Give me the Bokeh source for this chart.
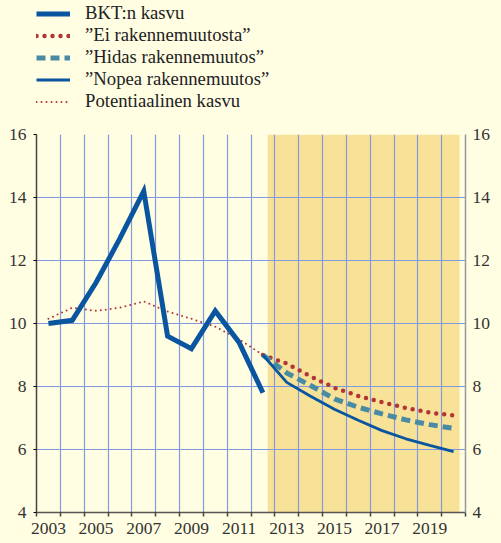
from bokeh.plotting import figure
from bokeh.layouts import column
from bokeh.models import (FixedTicker, LinearAxis, Legend, LegendItem, Range1d)
from bokeh.embed import file_html
from bokeh.resources import INLINE

# ---------------- data ----------------
years_hist = [2003, 2004, 2005, 2006, 2007, 2008, 2009, 2010, 2011, 2012]
bkt = [10.0, 10.1, 11.3, 12.7, 14.2, 9.6, 9.2, 10.4, 9.4, 7.8]
potential = [10.15, 10.5, 10.4, 10.5, 10.7, 10.38, 10.15, 9.9, 9.5, 9.0]

years_fc = [2012, 2013, 2014, 2015, 2016, 2017, 2018, 2019, 2020]
ei = [9.0, 8.73, 8.32, 7.96, 7.70, 7.50, 7.32, 7.17, 7.08]
hidas = [9.0, 8.43, 8.03, 7.61, 7.34, 7.13, 6.94, 6.79, 6.67]
nopea = [9.0, 8.13, 7.69, 7.28, 6.93, 6.60, 6.34, 6.13, 5.93]

all_years = list(range(2003, 2021))
tick_years = [2003, 2005, 2007, 2009, 2011, 2013, 2015, 2017, 2019]
tick_labels = ["2003", "2005", "2007", "2009", "2011", "2013", "2015", "2017", "2019"]
y_ticks = [4, 6, 8, 10, 12, 14, 16]

labels = ["BKT:n kasvu", "\u201dEi rakennemuutosta\u201d", "\u201dHidas rakennemuutos\u201d",
          "\u201dNopea rakennemuutos\u201d", "Potentiaalinen kasvu"]

forecast_start = 2012.2
forecast_end = 2020.25

# ---------------- style ----------------
BG = "#FFFDE2"
SHADE = "#F8E298"
GRID = "#8199E0"
BLUE = "#0A55A0"
RED = "#B23636"
TEAL = "#4A8BA3"
FONT = "Liberation Serif"

styles = [
    dict(line_color=BLUE, line_width=5, line_join="miter"),                       # BKT
    dict(line_color=RED, line_width=4.5, line_dash="0 8", line_cap="round"),      # Ei
    dict(line_color=TEAL, line_width=5, line_dash="9 5"),                         # Hidas
    dict(line_color=BLUE, line_width=2.8),                                        # Nopea
    dict(line_color=RED, line_width=2, line_dash="0 5", line_cap="round"),        # Potential
]
series = [(years_hist, bkt), (years_fc, ei), (years_fc, hidas), (years_fc, nopea),
          (years_hist, potential)]

boundaries = [y - 0.5 for y in all_years] + [all_years[-1] + 0.5]

# ---------------- main chart ----------------
p = figure(frame_width=429, frame_height=378,
           x_range=Range1d(boundaries[0], boundaries[-1]),
           y_range=Range1d(y_ticks[0], y_ticks[-1]),
           output_backend="svg", toolbar_location=None,
           min_border_top=10, min_border_left=36, min_border_right=36,
           min_border_bottom=31)
p.background_fill_color = BG
p.border_fill_color = BG
p.outline_line_color = None

p.quad(left=[forecast_start], right=[forecast_end], bottom=[y_ticks[0]], top=[y_ticks[-1]],
       fill_color=SHADE, line_color=None, level="image")

p.xgrid.ticker = FixedTicker(ticks=boundaries[1:-1])
p.ygrid.ticker = FixedTicker(ticks=y_ticks[1:])
for g in (p.xgrid, p.ygrid):
    g.grid_line_color = GRID
    g.grid_line_width = 1.2

# draw order: potential first, then BKT and scenarios
for i in (4, 0, 1, 2, 3):
    xs, ys = series[i]
    p.line(xs, ys, **styles[i])

xa = p.xaxis[0]
xa.ticker = FixedTicker(ticks=tick_years, minor_ticks=boundaries)
xa.major_label_overrides = {y: l for y, l in zip(tick_years, tick_labels)}
xa.major_tick_out = 0
xa.major_tick_in = 0
xa.minor_tick_out = 4
xa.minor_tick_in = 0
xa.minor_tick_line_color = "#444444"
xa.minor_tick_line_width = 1.5
xa.axis_line_color = "#555555"
xa.axis_line_width = 1.5
xa.major_label_standoff = 6

ya = p.yaxis[0]
ya.ticker = FixedTicker(ticks=y_ticks)
ya.major_tick_out = 3
ya.major_tick_in = 0
ya.minor_tick_line_color = None
ya.axis_line_color = "#444444"
ya.axis_line_width = 1.5
ya.major_label_standoff = 7

ra = LinearAxis(ticker=FixedTicker(ticks=y_ticks))
ra.major_tick_out = 0
ra.major_tick_in = 0
ra.minor_tick_line_color = None
ra.axis_line_color = "#999999"
ra.axis_line_width = 1.5
ra.major_label_standoff = 7
p.add_layout(ra, "right")

for ax in (xa, ya, ra):
    ax.major_label_text_font = FONT
    ax.major_label_text_font_size = "17.5px"
    ax.major_label_text_color = "#333333"

# ---------------- legend strip ----------------
# same series drawn again, but outside this strip's visible range: only the legend shows
lg = figure(width=501, height=124, x_axis_location=None, y_axis_location=None,
            x_range=Range1d(0, 1), y_range=Range1d(0, 1),
            output_backend="svg", toolbar_location=None,
            min_border_left=32, min_border_top=2, min_border_right=0, min_border_bottom=0)
lg.background_fill_color = BG
lg.border_fill_color = BG
lg.outline_line_color = None
lg.grid.visible = False
leg_renderers = [lg.line(xs, ys, **s) for (xs, ys), s in zip(series, styles)]

legend = Legend(items=[LegendItem(label=l, renderers=[r]) for l, r in zip(labels, leg_renderers)],
                location="top_left")
legend.glyph_width = 34
legend.glyph_height = 21
legend.label_height = 21
legend.label_standoff = 15
legend.spacing = 0
legend.padding = 0
legend.margin = 0
legend.border_line_color = None
legend.background_fill_alpha = 0
legend.label_text_font = FONT
legend.label_text_font_size = "18.7px"
legend.label_text_color = "#222222"
lg.add_layout(legend)

page = column(lg, p, spacing=0)

html = file_html(page, INLINE)
html = html.replace("<head>", "<head><style>body{background:%s;}</style>" % BG, 1)
open("out.html", "w").write(html)
